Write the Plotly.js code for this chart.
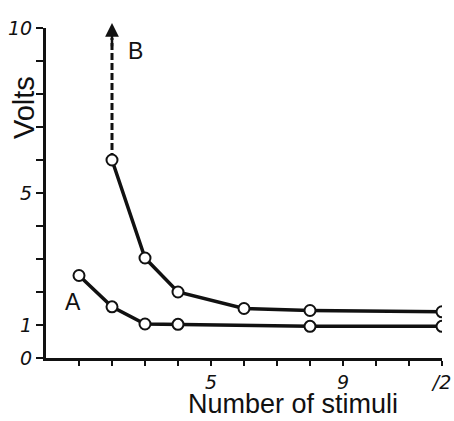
<!DOCTYPE html>
<html><head><meta charset="utf-8">
<script src="https://cdn.plot.ly/plotly-3.0.1.min.js"></script>
<style>html,body{margin:0;padding:0;background:#fff}</style>
</head><body><div id="chart" style="width:454px;height:421px"></div>
<script>
const stimuliA = [1, 2, 3, 4, 8, 12];
const voltsA = [2.5, 1.55, 1.03, 1.02, 0.96, 0.96];
const stimuliB = [2, 3, 4, 6, 8, 12];
const voltsB = [6.0, 3.03, 2.0, 1.5, 1.44, 1.4];
const arrowX = [2, 2];
const arrowY = [6.0, 9.7];
const arrowTip = 10.15;
const xTickVals = [1,2,3,4,5,6,7,8,9,10,11,12];
const xTickText = ['','','','','5','','','','9','','','/2'];
const yTickVals = [0,1,2,3,4,5,6,7,8,9,10];
const yTickText = ['0','1','','','','5','','','','','10'];

const markerStyle = {symbol:'circle', size:11, color:'#fff', line:{color:'#111', width:2}};
const traces = [
  {x: arrowX, y: arrowY, mode:'lines', line:{color:'#111', width:3, dash:'7px,3px'}, hoverinfo:'none'},
  {x: stimuliA, y: voltsA, mode:'lines+markers', line:{color:'#111', width:3.5}, marker: markerStyle, name:'A'},
  {x: stimuliB, y: voltsB, mode:'lines+markers', line:{color:'#111', width:3.5}, marker: markerStyle, name:'B'}
];
const tickFont = {family:'DejaVu Sans', size:19, color:'#111', style:'italic'};
const titleFont = {family:'Liberation Sans, Arial, sans-serif', size:27, color:'#111'};
const layout = {
  width:454, height:421,
  margin:{l:46, r:12, t:28, b:63},
  paper_bgcolor:'#fff', plot_bgcolor:'#fff',
  showlegend:false,
  xaxis:{range:[0,12], tickvals:xTickVals, ticktext:xTickText, ticks:'outside', ticklen:5, tickwidth:2, tickcolor:'#111',
    showline:true, linewidth:3, linecolor:'#111', showgrid:false, zeroline:false, tickfont:tickFont, ticklabelstandoff:0},
  yaxis:{range:[0,10], tickvals:yTickVals, ticktext:yTickText, ticks:'outside', ticklen:7, tickwidth:2, tickcolor:'#111',
    showline:true, linewidth:3, linecolor:'#111', showgrid:false, zeroline:false, tickfont:tickFont, ticklabelstandoff:0},
  annotations:[
    {x:2, y:arrowTip, ax:2, ay:9.4, axref:'x', ayref:'y', xref:'x', yref:'y', showarrow:true, arrowhead:2, arrowsize:1.1, arrowwidth:2.5, arrowcolor:'#111', text:''},
    {x:2.7, y:9.3, xref:'x', yref:'y', text:'B', showarrow:false, font:{family:'Liberation Sans, Arial, sans-serif', size:23, color:'#111'}},
    {x:0.82, y:1.7, xref:'x', yref:'y', text:'A', showarrow:false, font:{family:'Liberation Sans, Arial, sans-serif', size:23, color:'#111'}},
    {xref:'paper', yref:'paper', xanchor:'center', yanchor:'middle', text:'Number of stimuli', showarrow:false, font:titleFont},
    {xref:'paper', yref:'paper', xanchor:'center', yanchor:'middle', text:'Volts', textangle:-90, showarrow:false, font:{...titleFont, size:29}}
  ]
};
// place titles at pixel positions of the reference, converted to paper coords
const pw = 454 - 46 - 12, ph = 421 - 28 - 63;
layout.annotations[3].x = (293 - 46) / pw; layout.annotations[3].y = (358 - 404) / ph;
layout.annotations[4].x = (24 - 46) / pw; layout.annotations[4].y = (358 - 108) / ph;
Plotly.newPlot('chart', traces, layout, {displayModeBar:false, staticPlot:true});
</script></body></html>
